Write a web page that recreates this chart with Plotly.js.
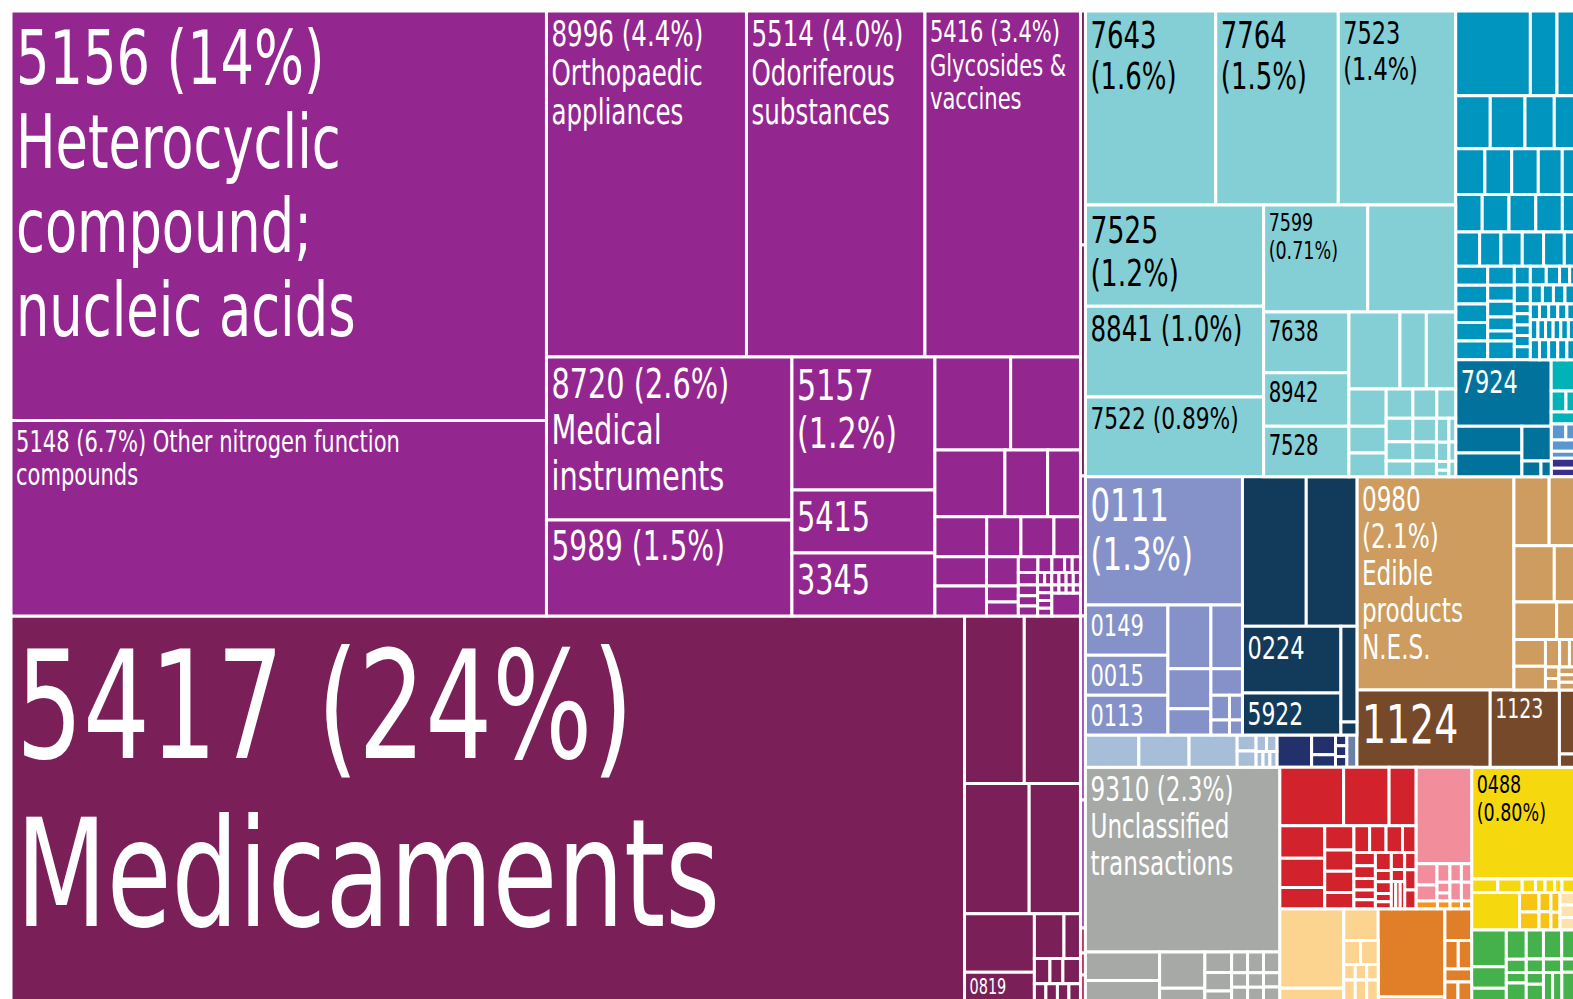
<!DOCTYPE html>
<html><head><meta charset="utf-8">
<script src="https://cdn.plot.ly/plotly-3.0.1.min.js"></script>
<style>html,body{margin:0;padding:0;overflow:hidden;background:#fff}#chart{width:1576px;height:1001px}</style>
</head><body><div id="chart"></div>
<script>
// ---- DATA: hierarchy paths (product codes as leaves) and relative export values ----
const lightPurplePaths = ['A/L/1/5156','A/L/1/5148','A/L/2/t/8996','A/L/2/t/5514','A/L/2/t/5416',
 'A/L/2/b/c1/8720','A/L/2/b/c1/5989','A/L/2/b/c2/5157','A/L/2/b/c2/5415','A/L/2/b/c2/3345',
 'A/L/2/b/c3/r1/a','A/L/2/b/c3/r1/b','A/L/2/b/c3/r2/a','A/L/2/b/c3/r2/b','A/L/2/b/c3/r2/c',
 'A/L/2/b/c3/r3/a','A/L/2/b/c3/r3/b','A/L/2/b/c3/r3/c','A/L/2/b/c3/r3/d',
 'A/L/2/b/c3/r4/A/a','A/L/2/b/c3/r4/A/b','A/L/2/b/c3/r4/B/a','A/L/2/b/c3/r4/B/b','A/L/2/b/c3/r4/B/c',
 'A/L/2/b/c3/r4/C/t1/a','A/L/2/b/c3/r4/C/t1/b','A/L/2/b/c3/r4/C/t1/c','A/L/2/b/c3/r4/C/t1/d','A/L/2/b/c3/r4/C/t1/e',
 'A/L/2/b/c3/r4/C/t2/a','A/L/2/b/c3/r4/C/t2/b','A/L/2/b/c3/r4/C/t2/c','A/L/2/b/c3/r4/C/t2/d','A/L/2/b/c3/r4/C/t2/e','A/L/2/b/c3/r4/C/t2/f','A/L/2/b/c3/r4/C/t2/g',
 'A/L/2/b/c3/r4/C/t3/a/1','A/L/2/b/c3/r4/C/t3/a/2','A/L/2/b/c3/r4/C/t3/a/3',
 'A/L/2/b/c3/r4/C/t3/b/1','A/L/2/b/c3/r4/C/t3/b/2','A/L/2/b/c3/r4/C/t3/b/3','A/L/2/b/c3/r4/C/t3/b/4',
 'A/L/2/b/c3/r4/C/t3/k/r/1','A/L/2/b/c3/r4/C/t3/k/r/2','A/L/2/b/c3/r4/C/t3/k/r/3','A/L/2/b/c3/r4/C/t3/k/r/4','A/L/2/b/c3/r4/C/t3/k/z'];
const lightPurpleValues = [2192.9,1046.9,692.0,617.6,538.0,400.2,235.7,190.2,90.1,90.1,
 70.4,64.9,46.7,28.5,21.9,20.7,13.7,13.2,10.6,15.1,15.5,9.3,5.1,4.5,
 3.1,2.2,2.0,1.2,1.3,2.4,0.9,0.9,0.9,0.9,0.9,0.9,2.1,1.95,1.95,1.1,1.1,1.1,1.1,0.57,0.57,0.57,0.57,6.6];

const darkPurplePaths = ['A/D/5417','A/D/r/1/a','A/D/r/1/b','A/D/r/2/a','A/D/r/2/b','A/D/r/3/e1/a','A/D/r/3/e1/0819',
 'A/D/r/3/e2/1/a','A/D/r/3/e2/1/b','A/D/r/3/e2/2/a','A/D/r/3/e2/2/b','A/D/r/3/e2/2/c',
 'A/D/r/3/e2/3/a','A/D/r/3/e2/3/b','A/D/r/3/e2/3/c','A/D/r/3/e2/3/d'];
const darkPurpleValues = [3671.0,100.0,94.0,84.2,66.8,41.0,20.0,13.3,7.4,3.9,3.25,4.4,2.0,2.0,2.0,2.0];

const stripDarkPaths = ['S/1','S/2'];          const stripDarkValues = [11.7,11.55];
const stripLightPaths = ['S/3'];               const stripLightValues = [7.0];
const stripVioletPaths = ['S/4','S/5'];        const stripVioletValues = [9.2,6.4];
const stripRedPaths = ['S/6','S/7','S/8'];     const stripRedValues = [1.25,1.1,1.3];

const cyanPaths = ['B/T/c/1/7643','B/T/c/1/7764','B/T/c/1/7523','B/T/c/2/l/7525','B/T/c/2/l/8841','B/T/c/2/l/7522',
 'B/T/c/2/r/u/7599','B/T/c/2/r/u/x','B/T/c/2/r/d/k/7638','B/T/c/2/r/d/k/8942','B/T/c/2/r/d/k/7528',
 'B/T/c/2/r/d/s/u/a','B/T/c/2/r/d/s/u/b','B/T/c/2/r/d/s/u/c',
 'B/T/c/2/r/d/s/l/1/a','B/T/c/2/r/d/s/l/1/b','B/T/c/2/r/d/s/l/1/c',
 'B/T/c/2/r/d/s/l/2/a/a','B/T/c/2/r/d/s/l/2/a/b','B/T/c/2/r/d/s/l/2/a/c',
 'B/T/c/2/r/d/s/l/2/b/1/a','B/T/c/2/r/d/s/l/2/b/1/b','B/T/c/2/r/d/s/l/2/b/1/c',
 'B/T/c/2/r/d/s/l/2/b/2/a','B/T/c/2/r/d/s/l/2/b/2/b','B/T/c/2/r/d/s/l/2/b/2/c',
 'B/T/c/2/r/d/s/l/2/b/3/a','B/T/c/2/r/d/s/l/2/b/3/b','B/T/c/2/r/d/s/l/2/b/3/c','B/T/c/2/r/d/s/l/2/b/3/d',
 'B/T/c/2/r/d/s/l/2/b/4/a','B/T/c/2/r/d/s/l/2/b/4/b','B/T/c/2/r/d/s/l/2/b/4/c'];
const cyanValues = [252.8,237.7,227.8,180.3,161.8,142.0,111.4,94.1,51.9,45.6,43.0,39.3,20.3,22.6,
 13.9,10.0,8.8,7.8,7.0,5.5,6.3,5.1,4.2,5.6,4.5,3.7,3.0,2.4,1.1,0.8,1.6,1.3,1.05];

const bluePaths = ['B/T/b/1/a','B/T/b/1/b','B/T/b/1/c',
 'B/T/b/2/a','B/T/b/2/b','B/T/b/2/c','B/T/b/2/d',
 'B/T/b/3/a','B/T/b/3/b','B/T/b/3/c','B/T/b/3/d','B/T/b/3/e',
 'B/T/b/4/a','B/T/b/4/b','B/T/b/4/c','B/T/b/4/d','B/T/b/4/e',
 'B/T/b/5/a','B/T/b/5/b','B/T/b/5/c','B/T/b/5/d','B/T/b/5/e','B/T/b/5/f',
 'B/T/b/6/a/1','B/T/b/6/a/2','B/T/b/6/a/3','B/T/b/6/a/4','B/T/b/6/a/5',
 'B/T/b/6/b/1','B/T/b/6/b/2','B/T/b/6/b/3','B/T/b/6/b/4','B/T/b/6/b/5','B/T/b/6/b/6',
 'B/T/b/6/c/1','B/T/b/6/c/2','B/T/b/6/c/3','B/T/b/6/c/4','B/T/b/6/c/5','B/T/b/6/c/6','B/T/b/6/c/7',
 'B/T/b/6/d/1/a','B/T/b/6/d/1/b','B/T/b/6/d/1/c','B/T/b/6/d/1/d',
 'B/T/b/6/d/2/a','B/T/b/6/d/2/b','B/T/b/6/d/2/c','B/T/b/6/d/2/d',
 'B/T/b/6/d/3/a','B/T/b/6/d/3/b','B/T/b/6/d/3/c','B/T/b/6/d/3/d','B/T/b/6/d/3/e',
 'B/T/b/6/d/4/a','B/T/b/6/d/4/b','B/T/b/6/d/4/c','B/T/b/6/d/4/d','B/T/b/6/d/4/e','B/T/b/6/d/4/f',
 'B/T/b/6/d/5/a','B/T/b/6/d/5/b','B/T/b/6/d/5/c','B/T/b/6/d/5/d','B/T/b/6/d/5/e'];
const blueValues = [63.3,22.6,16.1,18.3,18.4,15.5,11.5,13.4,12.3,12.2,11.0,6.3,9.9,10.0,10.0,9.9,5.1,
 8.2,7.3,7.3,7.3,7.1,4.0,6.1,6.0,5.9,6.0,6.0,5.05,4.3,4.2,3.7,2.7,5.0,3.0,3.0,1.6,1.8,1.7,1.8,2.1,
 3.0,2.5,1.9,1.2,2.3,2.1,2.2,2.1,1.44,1.44,1.44,1.44,1.44,1.52,1.52,1.52,1.52,1.52,1.52,1.83,1.83,1.83,1.83,1.83];

const tealPaths = ['B/T/b/7/t/7924','B/T/b/7/t/l/1/a','B/T/b/7/t/l/1/b','B/T/b/7/t/l/2/a','B/T/b/7/t/l/2/b/a','B/T/b/7/t/l/2/b/b'];
const tealValues = [63.3,17.8,15.7,10.2,3.0,1.6];
const turquoisePaths = ['B/T/b/7/m/1','B/T/b/7/m/2/a','B/T/b/7/m/2/b','B/T/b/7/m/3'];
const turquoiseValues = [7.7,3.1,2.1,3.0];
const lightBluePaths = ['B/T/b/7/m/4/a','B/T/b/7/m/4/b','B/T/b/7/m/5','B/T/b/7/m/6'];
const lightBlueValues = [2.3,1.6,2.9,1.7];
const indigoPaths = ['B/T/b/7/m/7','B/T/b/7/m/8'];
const indigoValues = [2.5,2.1];

const lavenderPaths = ['B/M/l/u/v/0111','B/M/l/u/v/l/1/0149','B/M/l/u/v/l/1/0015','B/M/l/u/v/l/1/0113',
 'B/M/l/u/v/l/2/a','B/M/l/u/v/l/2/b','B/M/l/u/v/l/2/c','B/M/l/u/v/l/3/a','B/M/l/u/v/l/3/b',
 'B/M/l/u/v/l/3/c/1/a','B/M/l/u/v/l/3/c/1/b','B/M/l/u/v/l/3/c/2/a','B/M/l/u/v/l/3/c/2/b'];
const lavenderValues = [201.4,41.5,33.0,32.75,27.4,17.2,11.3,20.1,8.4,4.6,2.8,3.2,1.95];
const navyPaths = ['B/M/l/u/n/t/a','B/M/l/u/n/t/b','B/M/l/u/n/b/k/0224','B/M/l/u/n/b/k/5922','B/M/l/u/n/b/j/a','B/M/l/u/n/b/j/b'];
const navyValues = [95.4,75.8,65.7,41.4,15.3,2.1];
const paleBluePaths = ['B/M/l/w/p1','B/M/l/w/p2','B/M/l/w/p3','B/M/l/w/pc/a','B/M/l/w/pc/b',
 'B/M/l/w/pd/t/a','B/M/l/w/pd/t/b','B/M/l/w/pd/b/a','B/M/l/w/pd/b/b','B/M/l/w/pd/b/c'];
const paleBlueValues = [17.2,16.2,15.5,3.0,3.1,1.7,1.7,1.1,1.1,1.1];
const navyBluePaths = ['B/M/l/w/n1','B/M/l/w/n2/a','B/M/l/w/n2/b','B/M/l/w/n3/a','B/M/l/w/n3/b','B/M/l/w/n3/c'];
const navyBlueValues = [11.2,4.7,3.0,1.2,1.2,1.2];
const slatePaths = ['B/M/l/w/sl'];
const slateValues = [3.3];
const tanPaths = ['B/M/r/t/0980','B/M/r/t/r/1/a','B/M/r/t/r/1/b','B/M/r/t/r/2/a','B/M/r/t/r/2/b','B/M/r/t/r/3/a','B/M/r/t/r/3/b',
 'B/M/r/t/r/4/a/a','B/M/r/t/r/4/a/b','B/M/r/t/r/4/b/t/a','B/M/r/t/r/4/b/t/b','B/M/r/t/r/4/b/t/c',
 'B/M/r/t/r/4/b/b/a/a','B/M/r/t/r/4/b/b/a/b','B/M/r/t/r/4/b/b/b/a','B/M/r/t/r/4/b/b/b/b','B/M/r/t/r/4/b/b/b/c'];
const tanValues = [334.9,24.3,18.5,22.7,12.2,16.1,7.3,8.4,7.5,3.9,2.7,1.8,1.55,1.55,1.3,1.3,1.3];
const brownPaths = ['B/M/r/b/1124','B/M/r/b/1123','B/M/r/b/c/a','B/M/r/b/c/b'];
const brownValues = [103.0,53.5,10.6,2.2];

const grayPaths = ['B/B/g/9310','B/B/g/l/1/a','B/B/g/l/1/b','B/B/g/l/2/a','B/B/g/l/2/b',
 'B/B/g/l/3/a','B/B/g/l/3/b','B/B/g/l/3/c','B/B/g/l/4/a','B/B/g/l/4/b','B/B/g/l/4/c',
 'B/B/g/l/5/a','B/B/g/l/5/b','B/B/g/l/5/c','B/B/g/l/6/a','B/B/g/l/6/b','B/B/g/l/6/c'];
const grayValues = [359.2,21.1,15.2,16.4,5.75,5.5,4.9,2.7,3.3,2.3,2.2,3.3,2.3,2.2,3.4,2.3,2.3];
const redPaths = ['B/B/w/u/r/1/a','B/B/w/u/r/1/b','B/B/w/u/r/1/c',
 'B/B/w/u/r/2/1/a','B/B/w/u/r/2/1/b','B/B/w/u/r/2/1/c',
 'B/B/w/u/r/2/2/a','B/B/w/u/r/2/2/b','B/B/w/u/r/2/2/c','B/B/w/u/r/2/2/d',
 'B/B/w/u/r/2/3/t/a','B/B/w/u/r/2/3/t/b','B/B/w/u/r/2/3/t/c','B/B/w/u/r/2/3/t/d',
 'B/B/w/u/r/2/3/b/1/a','B/B/w/u/r/2/3/b/1/b','B/B/w/u/r/2/3/b/1/c','B/B/w/u/r/2/3/b/1/d','B/B/w/u/r/2/3/b/1/e',
 'B/B/w/u/r/2/3/b/2/a','B/B/w/u/r/2/3/b/2/b','B/B/w/u/r/2/3/b/2/c','B/B/w/u/r/2/3/b/2/d','B/B/w/u/r/2/3/b/2/e',
 'B/B/w/u/r/2/3/b/3/a','B/B/w/u/r/2/3/b/3/b','B/B/w/u/r/2/3/b/3/c/a','B/B/w/u/r/2/3/b/3/c/b','B/B/w/u/r/2/3/b/3/c/c',
 'B/B/w/u/r/2/3/b/4/a','B/B/w/u/r/2/3/b/4/b','B/B/w/u/r/2/3/b/4/c'];
const redValues = [37.3,26.6,15.7,14.6,13.1,9.5,7.1,6.2,6.2,4.7,4.2,4.4,4.4,3.6,
 2.85,2.7,2.5,2.1,1.9,2.85,1.8,1.9,1.3,1.1,2.25,1.6,1.2,1.2,1.2,1.95,2.3,2.1];
const pinkPaths = ['B/B/w/u/p/1','B/B/w/u/p/2/a/a','B/B/w/u/p/2/a/b','B/B/w/u/p/2/b/a','B/B/w/u/p/2/b/b','B/B/w/u/p/2/b/c',
 'B/B/w/u/p/2/c/a','B/B/w/u/p/2/c/b','B/B/w/u/p/2/d/a','B/B/w/u/p/2/d/b'];
const pinkValues = [53.7,4.5,3.3,2.4,1.4,1.0,2.1,2.15,1.9,1.9];
const brightOrangePaths = ['B/B/w/u/p/3/a','B/B/w/u/p/3/b','B/B/w/u/p/3/c','B/B/w/u/p/3/d'];
const brightOrangeValues = [1.7,1.0,0.9,0.8];
const peachPaths = ['B/B/w/l/1/a','B/B/w/l/1/b','B/B/w/l/2/a','B/B/w/l/2/b/a','B/B/w/l/2/b/b',
 'B/B/w/l/2/c/a','B/B/w/l/2/c/b','B/B/w/l/2/c/c','B/B/w/l/2/d/a','B/B/w/l/2/d/b','B/B/w/l/2/d/c'];
const peachValues = [50.9,8.1,11.0,4.0,4.2,1.8,1.8,1.8,2.4,2.4,2.4];
const orangePaths = ['B/B/w/l/3/a','B/B/w/l/3/b','B/B/w/l/4/a','B/B/w/l/4/b/a','B/B/w/l/4/b/b','B/B/w/l/4/c','B/B/w/l/4/d/a','B/B/w/l/4/d/b'];
const orangeValues = [58.9,2.7,8.5,3.8,3.8,3.5,2.5,2.6];
const yellowPaths = ['B/B/y/0488','B/B/y/2/a','B/B/y/2/b','B/B/y/2/c','B/B/y/2/d','B/B/y/2/e','B/B/y/2/f','B/B/y/2/g','B/B/y/3/a'];
const yellowValues = [116.5,3.55,3.3,1.8,1.3,1.3,1.0,1.9,18.0];
const goldenPaths = ['B/B/y/3/b/a','B/B/y/3/b/b','B/B/y/3/c/a','B/B/y/3/c/b','B/B/y/3/d/a','B/B/y/3/d/b'];
const goldenValues = [3.8,3.5,2.3,2.2,1.8,1.6];
const creamPaths = ['B/B/y/3/e/a','B/B/y/3/e/b','B/B/y/3/e/c'];
const creamValues = [2.0,2.0,2.0];
const greenPaths = ['B/B/y/4/1/a','B/B/y/4/1/b','B/B/y/4/1/c','B/B/y/4/2/a','B/B/y/4/2/b','B/B/y/4/2/c','B/B/y/4/2/d',
 'B/B/y/4/3/a','B/B/y/4/3/b','B/B/y/4/3/c','B/B/y/4/3/d','B/B/y/4/4/a','B/B/y/4/4/b','B/B/y/4/4/c/a','B/B/y/4/4/c/b',
 'B/B/y/4/5/a','B/B/y/4/5/b','B/B/y/4/5/c'];
const greenValues = [12.7,7.5,4.4,5.8,2.65,2.1,3.6,5.0,2.3,2.0,2.9,5.3,2.45,2.6,2.6,4.15,1.9,4.1];

// ---- tile labels ----
const tileText = {
 '5156':'5156 (14%)<br>Heterocyclic<br>compound;<br>nucleic acids',
 '5148':'5148 (6.7%) Other nitrogen function<br>compounds',
 '8996':'8996 (4.4%)<br>Orthopaedic<br>appliances',
 '5514':'5514 (4.0%)<br>Odoriferous<br>substances',
 '5416':'5416 (3.4%)<br>Glycosides &amp;<br>vaccines',
 '8720':'8720 (2.6%)<br>Medical<br>instruments',
 '5157':'5157<br>(1.2%)', '5989':'5989 (1.5%)', '5415':'5415', '3345':'3345',
 '5417':'5417 (24%)<br>Medicaments', '0819':'0819',
 '7643':'7643<br>(1.6%)', '7764':'7764<br>(1.5%)', '7523':'7523<br>(1.4%)',
 '7525':'7525<br>(1.2%)', '7599':'7599<br>(0.71%)', '8841':'8841 (1.0%)', '7522':'7522 (0.89%)',
 '7638':'7638', '8942':'8942', '7528':'7528', '7924':'7924',
 '0111':'0111<br>(1.3%)', '0149':'0149', '0015':'0015', '0113':'0113', '0224':'0224', '5922':'5922',
 '0980':'0980<br>(2.1%)<br>Edible<br>products<br>N.E.S.', '1124':'1124', '1123':'1123',
 '9310':'9310 (2.3%)<br>Unclassified<br>transactions', '0488':'0488<br>(0.80%)'
};

// ---- styles ----
const tileFontSize = {'5156':75,'5148':30,'8996':35,'5514':35,'5416':30,'8720':41,'5157':43,'5989':40,'5415':41,'3345':41,
 '5417':150,'0819':27,'7643':37,'7764':37,'7523':32,'7525':38,'7599':25,'8841':35,'7522':31,'7638':28,'8942':28,'7528':28,
 '7924':32,'0111':44,'0149':30,'0015':30,'0113':30,'0224':32,'5922':32,'0980':33,'1124':54,'1123':27,'9310':33,'0488':25};
const sectionColors = {lightPurple:'#93278f', darkPurple:'#7a1f58', stripDark:'#7a1f58', stripLight:'#93278f',
 stripViolet:'#a15aac', stripRed:'#c0395a', cyan:'#84cfd5', blue:'#0095be', teal:'#00729c', turquoise:'#00b3b9',
 lightBlue:'#5a96cf', indigo:'#3a2e8c', lavender:'#8592c9', navy:'#123a5b', paleBlue:'#a6bed8', navyBlue:'#22306b',
 slate:'#6a80a8', tan:'#cd9c5e', brown:'#76492b', gray:'#a7a9a6', red:'#d2232c', pink:'#f28d9b', brightOrange:'#f7941e',
 peach:'#fdd390', orange:'#e07f28', yellow:'#f6d80f', golden:'#f8c313', cream:'#fde3ab', green:'#44b14a'};
const darkTextSections = new Set(['cyan','yellow']);
const CONDENSE = 0.78, LINE_GAP_EM = 1.12, PAD_L = 5, PAD_T = 3;

const sections = [
 ['lightPurple', lightPurplePaths, lightPurpleValues], ['darkPurple', darkPurplePaths, darkPurpleValues],
 ['stripDark', stripDarkPaths, stripDarkValues], ['stripLight', stripLightPaths, stripLightValues],
 ['stripViolet', stripVioletPaths, stripVioletValues], ['stripRed', stripRedPaths, stripRedValues],
 ['cyan', cyanPaths, cyanValues], ['blue', bluePaths, blueValues], ['teal', tealPaths, tealValues],
 ['turquoise', turquoisePaths, turquoiseValues], ['lightBlue', lightBluePaths, lightBlueValues], ['indigo', indigoPaths, indigoValues],
 ['lavender', lavenderPaths, lavenderValues], ['navy', navyPaths, navyValues], ['paleBlue', paleBluePaths, paleBlueValues],
 ['navyBlue', navyBluePaths, navyBlueValues], ['slate', slatePaths, slateValues], ['tan', tanPaths, tanValues], ['brown', brownPaths, brownValues],
 ['gray', grayPaths, grayValues], ['red', redPaths, redValues], ['pink', pinkPaths, pinkValues], ['brightOrange', brightOrangePaths, brightOrangeValues],
 ['peach', peachPaths, peachValues], ['orange', orangePaths, orangeValues], ['yellow', yellowPaths, yellowValues],
 ['golden', goldenPaths, goldenValues], ['cream', creamPaths, creamValues], ['green', greenPaths, greenValues]
];

const ids=['R'], parents=[''], vals=[0], fills=['#ffffff'], texts=[''], sizes=[12], fcolors=['#ffffff'], widths=[0];
const known = new Set(['R']);
sections.forEach(([name, paths, values]) => {
  paths.forEach((p, i) => {
    const segs = p.split('/');
    let parent = 'R';
    segs.forEach((s, j) => {
      const id = segs.slice(0, j + 1).join('/');
      const leaf = j === segs.length - 1;
      if (!known.has(id)) {
        known.add(id);
        ids.push(id); parents.push(parent);
        vals.push(leaf ? values[i] : 0);
        fills.push(leaf ? sectionColors[name] : '#ffffff');
        texts.push(leaf && tileText[s] ? tileText[s] : '');
        sizes.push(leaf && tileFontSize[s] ? tileFontSize[s] : 12);
        fcolors.push(darkTextSections.has(name) ? '#000000' : '#ffffff');
        widths.push(leaf ? 3 : 0);
      }
      parent = id;
    });
  });
});

const FONT = '"DejaVu Sans Condensed", "Liberation Sans Narrow", "Arial Narrow", sans-serif';
Plotly.newPlot('chart', [{
  type: 'treemap', ids: ids, labels: ids, parents: parents, values: vals,
  branchvalues: 'remainder', sort: false,
  text: texts, textinfo: 'text', textposition: 'top left',
  textfont: {family: FONT, size: sizes, color: fcolors},
  marker: {colors: fills, line: {width: widths, color: '#ffffff'}, pad: {t: 0, l: 0, r: 0, b: 0}, depthfade: false},
  leaf: {opacity: 1},
  tiling: {packing: 'slice-dice', pad: 0},
  pathbar: {visible: false}, hoverinfo: 'none', root: {color: '#ffffff'}
}], {
  width: 1576, height: 1001, margin: {l: 11, r: 0, t: 11, b: 0},
  paper_bgcolor: '#ffffff', font: {family: FONT}
}, {staticPlot: true, displayModeBar: false}).then(gd => {
  // condensed labels anchored to the top-left of each tile
  gd.querySelectorAll('g.slice').forEach(g => {
    const t = g.querySelector('g.slicetext text');
    const surf = g.querySelector('path.surface');
    if (!t || !surf || !t.textContent.trim()) return;
    t.querySelectorAll('tspan.line').forEach(ts => {
      const dy = parseFloat(ts.getAttribute('dy') || '0');
      if (dy) ts.setAttribute('dy', (dy / 1.3 * LINE_GAP_EM) + 'em');
    });
    t.setAttribute('text-anchor', 'start');
    t.removeAttribute('transform');
    const tb = t.getBBox(), rb = surf.getBBox();
    const availW = rb.width - PAD_L - 3, availH = rb.height - PAD_T - 2;
    const k = Math.min(1, availW / (tb.width * CONDENSE), availH / tb.height);
    t.setAttribute('transform', 'translate(' + (rb.x + PAD_L) + ',' + (rb.y + PAD_T) + ') scale(' + (CONDENSE * k) + ',' + k + ') translate(' + (-tb.x) + ',' + (-tb.y) + ')');
  });
});
</script></body></html>
